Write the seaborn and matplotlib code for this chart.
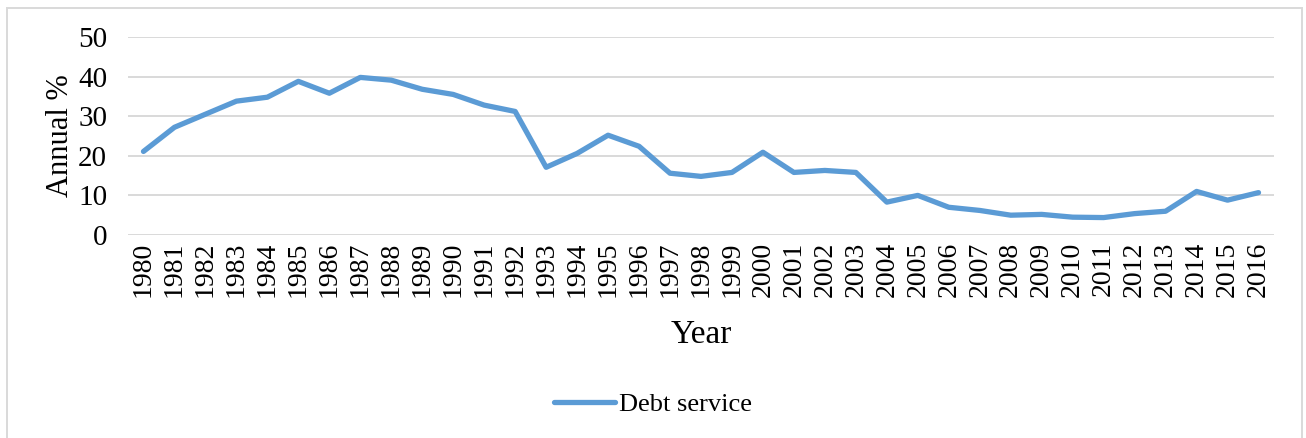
import pandas as pd
import matplotlib.pyplot as plt
import matplotlib.patches as patches
import seaborn as sns


years = [str(y) for y in range(1980, 2017)]
debt_service = [
	21.1, 27.2, 30.5, 33.8, 34.8, 38.8, 35.8, 39.8, 39.1, 36.8,
	35.5, 32.8, 31.2, 17.1, 20.6, 25.2, 22.4, 15.6, 14.8, 15.8,
	20.9, 15.8, 16.3, 15.8, 8.3, 10.0, 7.0, 6.2, 5.0, 5.2,
	4.5, 4.4, 5.4, 6.0, 11.0, 8.8, 10.7,
]
y_ticks = [0, 10, 20, 30, 40, 50]


def plot_chart(df) -> None:
	fig = plt.figure(figsize=(13.06, 4.38), dpi=100)
	ax = fig.add_axes([0.098, 0.4635, 0.8775, 0.452])
	sns.lineplot(
		data=df,
		x="Year",
		y="Debt service",
		ax=ax,
		color="#5B9BD5",
		linewidth=3.8,
		label="Debt service",
		sort=False
	)
	ax.set_xlim(-0.5, len(years) - 0.5)
	ax.set_ylim(0, 50)
	ax.set_yticks(y_ticks)
	ax.set_xticks(range(len(years)))
	ax.set_xticklabels(years, rotation=90)
	ax.tick_params(axis="both", length=0, colors="black")
	ax.tick_params(axis="x", labelsize=20, pad=5)
	ax.tick_params(axis="y", labelsize=21, pad=15)
	ax.grid(axis="y", color="#D9D9D9", linewidth=1.4)
	ax.grid(axis="x", visible=False)
	for side in ["top", "right", "left", "bottom"]:
		ax.spines[side].set_visible(False)
	ax.set_xlabel("Year", fontsize=24, labelpad=16, color="black")
	ax.set_ylabel("Annual %", fontsize=22, labelpad=2, color="black")
	leg = ax.legend(
		loc="center",
		bbox_to_anchor=(0.5, 0.077),
		bbox_transform=fig.transFigure,
		frameon=False,
		fontsize=19,
		handlelength=2.3,
		handletextpad=0.15
	)
	for text in leg.get_texts():
		text.set_color("black")
	border = patches.Rectangle(
		(6.5 / 1306, -0.01), 1295.5 / 1306, 1 - 7.5 / 438 + 0.01,
		transform=fig.transFigure, fill=False,
		edgecolor="#D9D9D9", linewidth=1.4
	)
	fig.add_artist(border)
	fig.savefig("out.png", dpi=100)


def main():
	sns.set_theme(style="white")
	plt.rcParams["font.family"] = ["Liberation Serif", "DejaVu Serif"]
	df = pd.DataFrame({"Year": years, "Debt service": debt_service})
	plot_chart(df)


if __name__ == "__main__":
	main()
